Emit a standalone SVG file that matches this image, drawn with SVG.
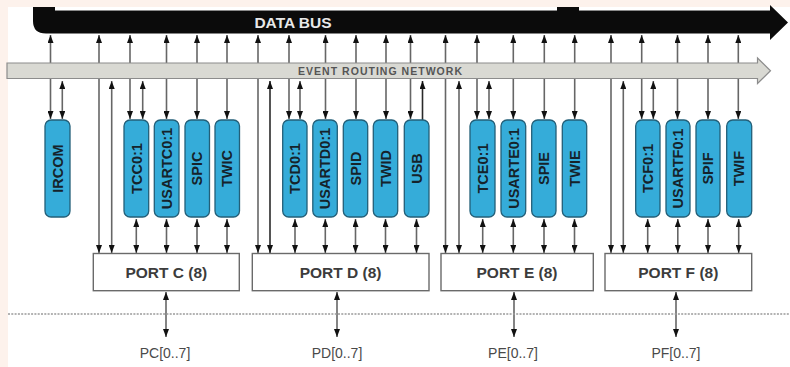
<svg xmlns="http://www.w3.org/2000/svg" width="790" height="367" viewBox="0 0 790 367">
  <style>
    .mod rect { fill: #35acd9; stroke: #235f78; stroke-width: 1.3; }
    .mod text { font-family: "Liberation Sans", Arial, sans-serif; font-weight: bold; font-size: 14.5px; fill: #15232b; text-anchor: middle; }
    .port rect { fill: #ffffff; stroke: #6a6a6a; stroke-width: 1.4; }
    .port text { font-family: "Liberation Sans", Arial, sans-serif; font-weight: bold; font-size: 15.5px; fill: #3c3c3c; text-anchor: middle; }
    .pin { font-family: "Liberation Sans", Arial, sans-serif; font-size: 14px; fill: #4a4a4a; text-anchor: middle; }
    .w line { stroke: #666666; stroke-width: 1.6; fill: none; }
    .both { marker-start: url(#ah); marker-end: url(#ah); }
    .up { marker-start: url(#ah); }
    .dn { marker-end: url(#ah); }
  </style>
  <defs>
    <marker id="ah" viewBox="0 0 8 6" refX="8" refY="3" markerWidth="8" markerHeight="6" markerUnits="userSpaceOnUse" orient="auto-start-reverse">
      <path d="M0,0 L8,3 L0,6 Z" fill="#111111"/>
    </marker>
  </defs>

  <!-- page background and white panel -->
  <rect x="0" y="0" width="790" height="367" fill="#fdf2ec"/>
  <rect x="8" y="7" width="782" height="360" fill="#ffffff"/>

  <!-- wires between buses, modules and ports -->
  <g id="connectors" class="w">
    <!-- data bus wires -->
    <line class="both" x1="50.5" y1="35" x2="50.5" y2="119"/>
    <line class="both" x1="99" y1="35" x2="99" y2="253"/>
    <line class="both" x1="130" y1="35" x2="130" y2="119"/>
    <line class="both" x1="166.5" y1="35" x2="166.5" y2="119"/>
    <line class="both" x1="197" y1="35" x2="197" y2="119"/>
    <line class="both" x1="227" y1="35" x2="227" y2="119"/>
    <line class="both" x1="258" y1="35" x2="258" y2="253"/>
    <line class="both" x1="289" y1="35" x2="289" y2="119"/>
    <line class="both" x1="325.5" y1="35" x2="325.5" y2="119"/>
    <line class="both" x1="356" y1="35" x2="356" y2="119"/>
    <line class="both" x1="386" y1="35" x2="386" y2="119"/>
    <line class="both" x1="410.5" y1="35" x2="410.5" y2="119"/>
    <line class="both" x1="445.5" y1="35" x2="445.5" y2="253"/>
    <line class="both" x1="477" y1="35" x2="477" y2="119"/>
    <line class="both" x1="513.3" y1="35" x2="513.3" y2="119"/>
    <line class="both" x1="544.3" y1="35" x2="544.3" y2="119"/>
    <line class="both" x1="574.7" y1="35" x2="574.7" y2="119"/>
    <line class="both" x1="611" y1="35" x2="611" y2="253"/>
    <line class="both" x1="641.7" y1="35" x2="641.7" y2="119"/>
    <line class="both" x1="677.5" y1="35" x2="677.5" y2="119"/>
    <line class="both" x1="708" y1="35" x2="708" y2="119"/>
    <line class="both" x1="738.3" y1="35" x2="738.3" y2="119"/>
    <!-- event network wires -->
    <line class="both" x1="62.3" y1="81" x2="62.3" y2="119"/>
    <line class="both" x1="111.7" y1="81" x2="111.7" y2="253"/>
    <line class="both" x1="142.7" y1="81" x2="142.7" y2="119"/>
    <line class="both" x1="270" y1="81" x2="270" y2="253" style="stroke:#2a2a2a"/>
    <line class="both" x1="300" y1="81" x2="300" y2="119"/>
    <line class="up" x1="422.5" y1="81" x2="422.5" y2="120" style="stroke:#2a2a2a"/>
    <line class="both" x1="459" y1="81" x2="459" y2="253"/>
    <line class="both" x1="489" y1="81" x2="489" y2="119"/>
    <line class="both" x1="623.3" y1="81" x2="623.3" y2="253"/>
    <line class="both" x1="653.3" y1="81" x2="653.3" y2="119"/>
    <!-- module to port wires -->
    <line class="both" x1="136.3" y1="219" x2="136.3" y2="253"/>
    <line class="both" x1="166.5" y1="219" x2="166.5" y2="253"/>
    <line class="both" x1="197" y1="219" x2="197" y2="253"/>
    <line class="both" x1="227" y1="219" x2="227" y2="253"/>
    <line class="both" x1="295" y1="219" x2="295" y2="253"/>
    <line class="both" x1="325.3" y1="219" x2="325.3" y2="253"/>
    <line class="both" x1="355.5" y1="219" x2="355.5" y2="253"/>
    <line class="both" x1="385.5" y1="219" x2="385.5" y2="253"/>
    <line class="both" x1="416.5" y1="219" x2="416.5" y2="253"/>
    <line class="both" x1="482.7" y1="219" x2="482.7" y2="253"/>
    <line class="both" x1="513.3" y1="219" x2="513.3" y2="253"/>
    <line class="both" x1="544" y1="219" x2="544" y2="253"/>
    <line class="both" x1="574.5" y1="219" x2="574.5" y2="253"/>
    <line class="both" x1="647.7" y1="219" x2="647.7" y2="253"/>
    <line class="both" x1="677.8" y1="219" x2="677.8" y2="253"/>
    <line class="both" x1="708" y1="219" x2="708" y2="253"/>
    <line class="both" x1="738.7" y1="219" x2="738.7" y2="253"/>
    <!-- port pins -->
    <line class="both" x1="166" y1="292" x2="166" y2="337"/>
    <line class="both" x1="337" y1="292" x2="337" y2="337"/>
    <line class="both" x1="514" y1="292" x2="514" y2="337"/>
    <line class="both" x1="676" y1="292" x2="676" y2="337"/>
  </g>

  <!-- data bus -->
  <g id="data-bus">
    <path d="M33,7 H55 V10.5 H557 V7 H579 V10.5 H770 V5 L788,22.5 L770,40 V33.5 H46 Q33,33.5 33,21 Z" fill="#0b0b0b"/>
    <line x1="55" y1="10.5" x2="557" y2="10.5" stroke="#8a8a8a" stroke-width="1"/>
    <line x1="579" y1="10.5" x2="770" y2="10.5" stroke="#8a8a8a" stroke-width="1"/>
    <text x="293" y="27.8" font-family="Liberation Sans, Arial, sans-serif" font-weight="bold" font-size="15.5px" fill="#e8e8e8" text-anchor="middle">DATA BUS</text>
  </g>

  <!-- event routing network -->
  <g id="event-network">
    <path d="M7,63 H757.5 V58 L770.5,70.7 L757.5,83.5 V78.5 H7 Z" fill="#d9d9d3" stroke="#8c8c8c" stroke-width="1.2"/>
    <text x="380" y="74.6" font-family="Liberation Sans, Arial, sans-serif" font-weight="bold" font-size="10.5px" fill="#555555" text-anchor="middle" textLength="164" lengthAdjust="spacing">EVENT ROUTING NETWORK</text>
  </g>

  <!-- peripheral modules -->
  <g id="ircom" class="mod"><rect x="45" y="120" width="25" height="97" rx="6"/><text transform="translate(57.5,168.5) rotate(-90)" dy="0.36em">IRCOM</text></g>

  <g id="tcc" class="mod"><rect x="124" y="120" width="24.7" height="97" rx="6"/><text transform="translate(136.3,168.5) rotate(-90)" dy="0.36em">TCC0:1</text></g>
  <g id="usartc" class="mod"><rect x="154.3" y="120" width="24.7" height="97" rx="6"/><text transform="translate(166.7,168.5) rotate(-90)" dy="0.36em">USARTC0:1</text></g>
  <g id="spic" class="mod"><rect x="185" y="120" width="24.5" height="97" rx="6"/><text transform="translate(197.2,168.5) rotate(-90)" dy="0.36em">SPIC</text></g>
  <g id="twic" class="mod"><rect x="215" y="120" width="24.5" height="97" rx="6"/><text transform="translate(227.2,168.5) rotate(-90)" dy="0.36em">TWIC</text></g>

  <g id="tcd" class="mod"><rect x="282.7" y="120" width="24.3" height="97" rx="6"/><text transform="translate(294.8,168.5) rotate(-90)" dy="0.36em">TCD0:1</text></g>
  <g id="usartd" class="mod"><rect x="312.8" y="120" width="24.5" height="97" rx="6"/><text transform="translate(325,168.5) rotate(-90)" dy="0.36em">USARTD0:1</text></g>
  <g id="spid" class="mod"><rect x="343.3" y="120" width="24.4" height="97" rx="6"/><text transform="translate(355.5,168.5) rotate(-90)" dy="0.36em">SPID</text></g>
  <g id="twid" class="mod"><rect x="373.3" y="120" width="24.4" height="97" rx="6"/><text transform="translate(385.5,168.5) rotate(-90)" dy="0.36em">TWID</text></g>
  <g id="usb" class="mod"><rect x="404.3" y="120" width="24.7" height="97" rx="6"/><text transform="translate(416.7,168.5) rotate(-90)" dy="0.36em">USB</text></g>

  <g id="tce" class="mod"><rect x="470" y="120" width="25" height="97" rx="6"/><text transform="translate(482.5,168.5) rotate(-90)" dy="0.36em">TCE0:1</text></g>
  <g id="usarte" class="mod"><rect x="501" y="120" width="24.7" height="97" rx="6"/><text transform="translate(513.3,168.5) rotate(-90)" dy="0.36em">USARTE0:1</text></g>
  <g id="spie" class="mod"><rect x="531.7" y="120" width="24.3" height="97" rx="6"/><text transform="translate(543.8,168.5) rotate(-90)" dy="0.36em">SPIE</text></g>
  <g id="twie" class="mod"><rect x="562.3" y="120" width="24.4" height="97" rx="6"/><text transform="translate(574.5,168.5) rotate(-90)" dy="0.36em">TWIE</text></g>

  <g id="tcf" class="mod"><rect x="635.7" y="120" width="24.3" height="97" rx="6"/><text transform="translate(647.8,168.5) rotate(-90)" dy="0.36em">TCF0:1</text></g>
  <g id="usartf" class="mod"><rect x="666" y="120" width="24" height="97" rx="6"/><text transform="translate(678,168.5) rotate(-90)" dy="0.36em">USARTF0:1</text></g>
  <g id="spif" class="mod"><rect x="696" y="120" width="24" height="97" rx="6"/><text transform="translate(708,168.5) rotate(-90)" dy="0.36em">SPIF</text></g>
  <g id="twif" class="mod"><rect x="726.7" y="120" width="25" height="97" rx="6"/><text transform="translate(739.2,168.5) rotate(-90)" dy="0.36em">TWIF</text></g>

  <!-- I/O ports -->
  <g id="port-c" class="port"><rect x="93.3" y="253.5" width="146" height="37.2"/><text x="166.3" y="277.8">PORT C (8)</text></g>
  <g id="port-d" class="port"><rect x="252.3" y="253.5" width="176.7" height="37.2"/><text x="340.6" y="277.8">PORT D (8)</text></g>
  <g id="port-e" class="port"><rect x="441" y="253.5" width="152.3" height="37.2"/><text x="517" y="277.8">PORT E (8)</text></g>
  <g id="port-f" class="port"><rect x="605" y="253.5" width="146.7" height="37.2"/><text x="678.3" y="277.8">PORT F (8)</text></g>

  <!-- chip boundary -->
  <line x1="8" y1="314" x2="790" y2="314" stroke="#9a9a9a" stroke-width="1.5" stroke-dasharray="2,1.3"/>

  <!-- pin labels -->
  <g id="pins-c"><text class="pin" x="165" y="357.5">PC[0..7]</text></g>
  <g id="pins-d"><text class="pin" x="337" y="357.5">PD[0..7]</text></g>
  <g id="pins-e"><text class="pin" x="513" y="357.5">PE[0..7]</text></g>
  <g id="pins-f"><text class="pin" x="676" y="357.5">PF[0..7]</text></g>
</svg>
